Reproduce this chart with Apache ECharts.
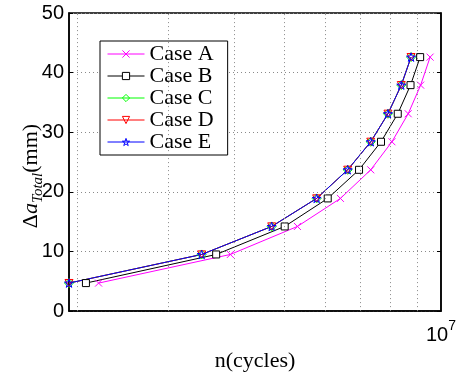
<!DOCTYPE html>
<html>
<head>
<meta charset="utf-8">
<script src="https://cdn.jsdelivr.net/npm/echarts@6/dist/echarts.min.js"></script>
<style>
  html, body { margin: 0; padding: 0; background: #fff; }
  #chart { width: 459px; height: 377px; }
</style>
</head>
<body>
<div id="chart"></div>
<script>
// Crack growth vs. number of cycles for five load cases
const crackGrowth = [4.7, 9.5, 14.2, 18.9, 23.7, 28.4, 33.1, 37.9, 42.6];   // Δa_Total (mm)
const cyclesA = [2.20e6, 3.94e6, 5.30e6, 6.41e6, 7.33e6, 8.05e6, 8.65e6, 9.14e6, 9.53e6];
const cyclesB = [2.08e6, 3.70e6, 5.01e6, 6.06e6, 6.96e6, 7.67e6, 8.26e6, 8.74e6, 9.12e6];
const cyclesC = [1.93e6, 3.47e6, 4.73e6, 5.77e6, 6.62e6, 7.33e6, 7.91e6, 8.39e6, 8.76e6];
const cyclesD = [1.93e6, 3.47e6, 4.73e6, 5.77e6, 6.62e6, 7.33e6, 7.91e6, 8.39e6, 8.76e6];
const cyclesE = [1.93e6, 3.47e6, 4.73e6, 5.77e6, 6.62e6, 7.33e6, 7.91e6, 8.39e6, 8.76e6];
const caseNames = ['Case A', 'Case B', 'Case C', 'Case D', 'Case E'];
const xMin = 1.93e6, xMax = 1e7;
const minorGridX = [2e6, 3e6, 4e6, 5e6, 6e6, 7e6, 8e6, 9e6];

const SERIF = '"Liberation Serif", "DejaVu Serif", serif';
const SANS = '"Liberation Sans", Arial, sans-serif';
const CLEAR = 'rgba(0,0,0,0)';

const SYM_CROSS = 'path://M0,0L10,10M10,0L0,10';
const SYM_TRI_DOWN = 'path://M0,0L10,0L5,9Z';
const SYM_STAR = 'path://M0,-10L2.25,-3.09L9.51,-3.09L3.63,1.18L5.88,8.09L0,3.82L-5.88,8.09L-3.63,1.18L-9.51,-3.09L-2.25,-3.09Z';

// per-case look: stroke colour, marker, marker size, marker fill
const caseStyles = [
  { color: '#ff00ff', symbol: SYM_CROSS, size: 7, fill: CLEAR },
  { color: '#000000', symbol: 'rect', size: 7, fill: '#ffffff' },
  { color: '#00ff00', symbol: 'diamond', size: 9, fill: CLEAR },
  { color: '#ff0000', symbol: SYM_TRI_DOWN, size: 8, fill: CLEAR },
  { color: '#0000ff', symbol: SYM_STAR, size: 9, fill: CLEAR }
];
const caseCycles = [cyclesA, cyclesB, cyclesC, cyclesD, cyclesE];

function pairs(xs) { return xs.map((x, i) => [x, crackGrowth[i]]); }

function lineSeries(i) {
  const s = caseStyles[i];
  return {
    name: caseNames[i],
    type: 'line',
    data: pairs(caseCycles[i]),
    symbol: s.symbol,
    symbolSize: s.size,
    symbolKeepAspect: true,
    showAllSymbol: true,
    clip: false,
    lineStyle: { color: s.color, width: 1 },
    itemStyle: { color: s.fill, borderColor: s.color, borderWidth: 1 },
    emphasis: { disabled: true },
    z: 3
  };
}

const chart = echarts.init(document.getElementById('chart'), null, { renderer: 'canvas' });

chart.setOption({
  animation: false,
  backgroundColor: '#fff',
  grid: {
    left: 69, right: 16, top: 13, bottom: 64,
    show: true, borderColor: '#000', borderWidth: 1.5, backgroundColor: 'transparent'
  },
  legend: {
    left: 100, top: 41,
    orient: 'vertical',
    backgroundColor: '#fff',
    borderColor: '#000',
    borderWidth: 1,
    borderRadius: 0,
    padding: [2, 14, 2, 7],
    itemGap: 0,
    itemWidth: 37,
    itemHeight: 9,
    data: caseNames.map((n, i) => ({
      name: n,
      itemStyle: { color: caseStyles[i].fill, borderColor: caseStyles[i].color, borderWidth: 1 },
      lineStyle: { color: caseStyles[i].color, width: 1 }
    })),
    textStyle: { fontFamily: SERIF, fontSize: 22, color: '#000', lineHeight: 21 }
  },
  // rotated y-axis title with italic symbol and subscript
  graphic: [{
    type: 'text',
    x: 29,
    y: 176,
    rotation: Math.PI / 2,
    silent: true,
    style: {
      text: '{n|Δ}{i|a}{sub|Total}{n|(mm)}',
      align: 'center',
      verticalAlign: 'middle',
      rich: {
        n: { fontFamily: SERIF, fontSize: 22, fill: '#000', verticalAlign: 'bottom', lineHeight: 26 },
        i: { fontFamily: SERIF, fontSize: 22, fontStyle: 'italic', fill: '#000', verticalAlign: 'bottom', lineHeight: 26 },
        sub: { fontFamily: SERIF, fontSize: 15, fontStyle: 'italic', fill: '#000', verticalAlign: 'bottom', lineHeight: 26, padding: [0, 0, -4, 0] }
      }
    }
  }],
  xAxis: [{
    type: 'log',
    logBase: 10,
    min: xMin,
    max: xMax,
    name: 'n(cycles)',
    nameLocation: 'middle',
    nameGap: 33,
    nameTextStyle: { fontFamily: SERIF, fontSize: 22, color: '#000' },
    axisLine: { show: true, lineStyle: { color: '#000', width: 1.5 } },
    axisTick: { show: false },
    splitLine: { show: false },
    axisLabel: {
      margin: 8,
      showMinLabel: false,
      formatter: function (v) { return Math.abs(v - 1e7) < 1 ? '{b|10}{s|7}' : ''; },
      rich: {
        b: { fontFamily: SANS, fontSize: 20, color: '#000', verticalAlign: 'bottom', lineHeight: 26 },
        s: { fontFamily: SANS, fontSize: 14, color: '#000', verticalAlign: 'top', lineHeight: 26 }
      }
    }
  }],
  yAxis: [{
    type: 'value',
    min: 0, max: 50, interval: 10,
    axisLine: { show: true, lineStyle: { color: '#000', width: 1.5 } },
    axisTick: { show: true, inside: true, length: 4, lineStyle: { color: '#000' } },
    axisLabel: { fontFamily: SANS, fontSize: 20, color: '#000', margin: 5 },
    splitLine: {
      show: true,
      lineStyle: { color: '#8a8a8a', type: [1, 3], width: 1 }
    }
  }, {
    type: 'value',
    position: 'right',
    min: 0, max: 50, interval: 10,
    axisLine: { show: true, lineStyle: { color: '#000', width: 1.5 } },
    axisTick: { show: true, inside: true, length: 4, lineStyle: { color: '#000' } },
    axisLabel: { show: false },
    splitLine: { show: false }
  }],
  series: [
    {
      // dotted vertical grid at the minor decades of the log axis
      type: 'line',
      data: [],
      silent: true,
      z: 1,
      markLine: {
        silent: true,
        symbol: ['none', 'none'],
        label: { show: false },
        lineStyle: { color: '#8a8a8a', type: [1, 3], width: 1 },
        emphasis: { disabled: true },
        data: minorGridX.map(v => ({ xAxis: v }))
      }
    },
    lineSeries(0), lineSeries(1), lineSeries(2), lineSeries(3), lineSeries(4)
  ]
});
</script>
</body>
</html>
